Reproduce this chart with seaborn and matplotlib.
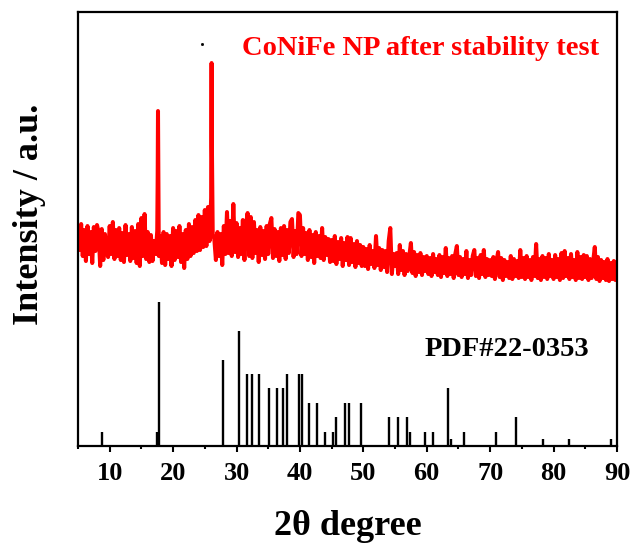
import matplotlib
matplotlib.use("Agg")
import matplotlib.pyplot as plt
from matplotlib.ticker import MultipleLocator
import seaborn as sns
import pandas as pd
import numpy as np

# measured pattern, 2theta scan from 5 to 90 deg in 0.25 deg steps
scan_start, scan_stop, scan_step = 5.0, 90.0, 0.25
sample_int = [
    218, 196, 222, 190, 216, 185, 220, 192, 214, 183, 219, 195, 221, 214, 180, 217, 186, 212, 194, 189,
    220, 192, 224, 187, 216, 190, 218, 186, 213, 184, 221, 191, 212, 185, 219, 188, 215, 183, 222, 180,
    228, 190, 232, 187, 214, 184, 211, 185, 205, 192, 215, 190, 210, 183, 214, 181, 212, 187, 210, 180,
    218, 186, 215, 189, 220, 184, 212, 178, 216, 187, 222, 190, 219, 193, 226, 195, 231, 196, 229, 199,
    236, 200, 239, 205, 248, 212, 207, 186, 214, 190, 212, 181, 220, 192, 234, 193, 225, 190, 242, 194,
    223, 189, 218, 192, 226, 186, 221, 233, 190, 229, 188, 224, 193, 216, 184, 219, 191, 215, 187, 220,
    192, 222, 228, 188, 217, 190, 214, 185, 218, 191, 220, 187, 216, 193, 224, 227, 189, 215, 192, 233,
    231, 190, 218, 192, 213, 186, 216, 189, 211, 183, 214, 190, 210, 188, 218, 186, 209, 191, 207, 184,
    206, 185, 210, 182, 204, 187, 208, 180, 203, 186, 209, 181, 208, 184, 202, 179, 205, 183, 201, 180,
    199, 180, 197, 177, 201, 182, 195, 178, 210, 181, 198, 176, 196, 179, 195, 174, 205, 218, 172, 192,
    180, 193, 172, 201, 176, 195, 171, 192, 175, 190, 203, 173, 194, 170, 191, 174, 193, 171, 189, 175,
    190, 172, 188, 170, 192, 174, 187, 171, 191, 169, 189, 173, 198, 170, 188, 172, 190, 168, 192, 200,
    171, 189, 169, 187, 172, 195, 168, 186, 171, 190, 196, 170, 188, 168, 191, 172, 196, 169, 187, 171,
    186, 170, 189, 167, 185, 194, 169, 188, 166, 186, 170, 184, 168, 190, 167, 187, 170, 185, 168, 196,
    169, 188, 167, 190, 169, 186, 166, 189, 170, 202, 168, 187, 166, 190, 169, 188, 167, 192, 170, 186,
    167, 191, 169, 187, 166, 193, 168, 195, 170, 188, 167, 192, 169, 186, 166, 194, 168, 189, 167, 191,
    169, 190, 166, 187, 168, 185, 199, 167, 189, 165, 186, 168, 184, 166, 187, 165, 183, 167, 185, 166, 184,
]
# the two sharp reflections, read separately
peak_theta = [17.57, 17.62, 17.68, 26.02, 26.07, 26.12]
peak_int = [270, 335, 260, 310, 383, 300]
# stray mark above the curve
stray_theta, stray_int = [24.6], [402]

# reference card PDF#22-0353 (relative intensity, %)
pdf_theta = [8.85, 17.5, 17.85, 27.8, 30.4, 31.7, 32.5, 33.6, 35.2, 36.4, 37.4, 38.0,
             39.9, 40.3, 41.5, 42.7, 44.0, 45.2, 45.7, 47.1, 47.8, 49.6, 54.0, 55.4,
             56.9, 57.3, 59.8, 61.0, 63.3, 63.8, 65.8, 70.9, 74.1, 78.4, 82.5, 89.0]
pdf_int = [10, 10, 100, 60, 80, 50, 50, 50, 40, 40, 40, 50,
           50, 50, 30, 30, 10, 10, 20, 30, 30, 30, 20, 20,
           20, 10, 10, 10, 40, 5, 10, 10, 20, 5, 5, 5]
pdf_scale = 1.44  # card drawn below the measured curve

sns.set_theme(style="ticks")
plt.rcParams['font.family'] = ['Liberation Serif', 'DejaVu Serif']
plt.rcParams['font.weight'] = 'bold'
plt.rcParams['axes.labelweight'] = 'bold'
plt.rcParams['text.color'] = 'black'
plt.rcParams['axes.labelcolor'] = 'black'
plt.rcParams['xtick.color'] = 'black'
plt.rcParams['xtick.labelcolor'] = 'black'

scan_theta = np.round(np.arange(scan_start, scan_stop + scan_step / 2, scan_step), 2)
sample = pd.DataFrame({"theta": np.concatenate([scan_theta, peak_theta]),
                       "intensity": np.concatenate([sample_int, peak_int])})
sample = sample.sort_values("theta")

fig = plt.figure(figsize=(6.36, 5.47), dpi=100)
ax = fig.add_axes([0.1226, 0.1846, 0.8475, 0.7934])

sns.lineplot(data=sample, x="theta", y="intensity", ax=ax, color="#ff0000",
             linewidth=2.9, estimator=None, sort=False)
ax.vlines(pdf_theta, 0, np.array(pdf_int) * pdf_scale, color="black", linewidth=1.7)
ax.plot(stray_theta, stray_int, "s", color="black", markersize=1)

ax.set_xlim(5, 90)
ax.set_ylim(0, 434)
ax.xaxis.set_major_locator(MultipleLocator(10))
ax.xaxis.set_minor_locator(MultipleLocator(5))
ax.set_yticks([])
ax.tick_params(axis='x', which='major', direction='out', length=4.5, width=1.5,
               labelsize=19, pad=7, colors='black')
ax.tick_params(axis='x', which='minor', direction='out', length=2.3, width=1.5)
for lbl in ax.get_xticklabels():
    lbl.set_fontweight('bold')
for s in ax.spines.values():
    s.set_linewidth(1.6)
    s.set_color('black')

ax.set_xlabel("2θ degree", fontsize=26, fontweight='bold', labelpad=18)
ax.set_ylabel("Intensity / a.u.", fontsize=26, fontweight='bold')
ax.yaxis.set_label_coords(-0.06, 0.535)

ax.text(30.8, 391, "CoNiFe NP after stability test", color="#ff0000",
        fontsize=20.5, fontweight='bold', ha='left', va='baseline')
ax.text(59.7, 90, "PDF#22-0353", color="black",
        fontsize=20.5, fontweight='bold', ha='left', va='baseline')

fig.savefig("out.png", dpi=100)
